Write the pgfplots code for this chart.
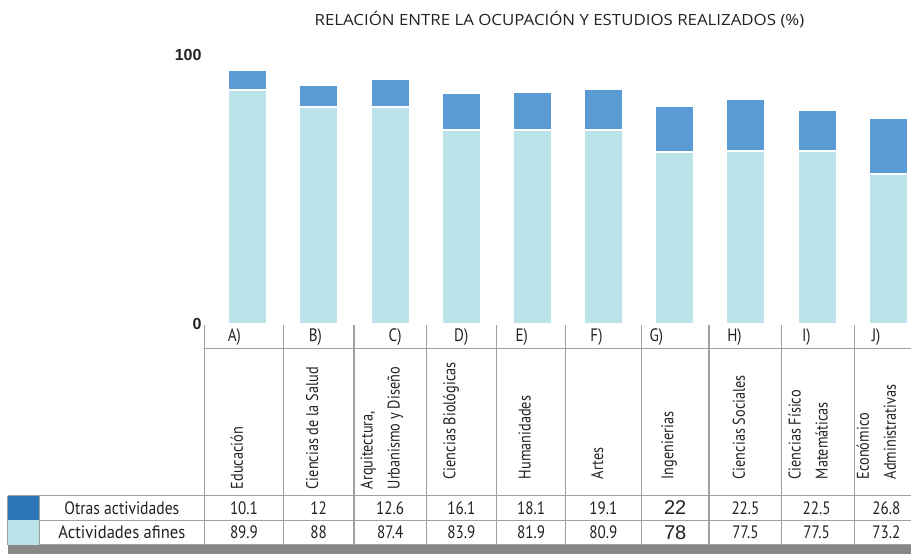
\documentclass[border=0pt]{standalone}
\usepackage{fontspec}
\usepackage{graphicx}
\setmainfont{Liberation Sans}
\newfontfamily\condf{PT Sans}
\newfontfamily\titlef{Open Sans}
\usepackage{pgfplots}
\usepackage{pgfplotstable}
\pgfplotsset{compat=1.18}
\definecolor{darkbar}{HTML}{5B9BD5}
\definecolor{lightbar}{HTML}{BDE3EA}
\definecolor{darksw}{HTML}{2E75B6}
\definecolor{gridc}{HTML}{A0A0A0}
\definecolor{footc}{HTML}{888888}
\definecolor{mytext}{HTML}{222222}
\newcommand{\nar}[1]{\scalebox{0.84}[1]{#1}}
\tikzset{
  lett/.style={font=\condf\fontsize{9}{10}\selectfont, text=mytext},
  cat/.style={font=\condf\fontsize{8.5}{13.5}\selectfont, text=mytext, rotate=90, anchor=west, align=left, inner sep=0pt},
  num/.style={font=\condf\fontsize{9}{10}\selectfont, text=mytext},
  tl/.style={gridc, line width=0.6pt},
}

\pgfplotstableread{
x afines otras
0 87.0 7.4
1 80.7 8.2
2 80.7 10.3
3 72.3 13.5
4 72.0 14.3
5 72.0 15.3
6 64.1 17.1
7 64.4 19.3
8 64.4 15.3
9 55.7 20.8
}\barsdata

\begin{document}
\begin{tikzpicture}
\begin{axis}[
  x=35.6pt, y=1.3465pt,
  xmin=-0.604, xmax=9.326, ymin=0, ymax=100,
  enlargelimits=false,
  ybar stacked, bar width=19.5pt,
  axis line style={draw=none}, major tick style={draw=none},
  xtick=\empty, ytick={0,100},
  /pgf/number format/assume math mode=true,
  yticklabel style={font=\fontsize{8}{8}\selectfont\bfseries, text=mytext, inner sep=1.5pt},
  clip=false,
]
\addplot[fill=lightbar, draw=white, line width=1pt] table[x=x,y=afines]{\barsdata};
\addplot[fill=darkbar, draw=white, line width=1pt] table[x=x,y=otras]{\barsdata};

\path (axis cs:-3.483,120.42) rectangle (axis cs:9.326,-85.3);

\node[font=\titlef\fontsize{7.7}{9}\selectfont, text=mytext] at (axis cs:4.38,113) {\resizebox{245pt}{\height}{RELACIÓN ENTRE LA OCUPACIÓN Y ESTUDIOS REALIZADOS (\%)}};

\fill[footc] (axis cs:-3.371,-81.96) rectangle (axis cs:9.326,-85.3);
\fill[darksw] (axis cs:-3.371,-63.76) rectangle (axis cs:-2.931,-72.93);
\fill[lightbar] (axis cs:-3.371,-72.93) rectangle (axis cs:-2.931,-81.96);

\draw[tl] (axis cs:-0.604,-0.26) -- (axis cs:-0.604,-81.96);
\draw[tl] (axis cs:0.496,-0.26) -- (axis cs:0.496,-81.96);
\draw[tl] (axis cs:1.493,-0.26) -- (axis cs:1.493,-81.96);
\draw[tl] (axis cs:2.510,-0.26) -- (axis cs:2.510,-81.96);
\draw[tl] (axis cs:3.493,-0.26) -- (axis cs:3.493,-81.96);
\draw[tl] (axis cs:4.466,-0.26) -- (axis cs:4.466,-81.96);
\draw[tl] (axis cs:5.529,-0.26) -- (axis cs:5.529,-81.96);
\draw[tl] (axis cs:6.482,-0.26) -- (axis cs:6.482,-81.96);
\draw[tl] (axis cs:7.504,-0.26) -- (axis cs:7.504,-81.96);
\draw[tl] (axis cs:8.528,-0.26) -- (axis cs:8.528,-81.96);
\draw[tl] (axis cs:-3.371,-63.76) -- (axis cs:-3.371,-81.96);
\draw[tl] (axis cs:-2.931,-63.76) -- (axis cs:-2.931,-81.96);
\draw[tl] (axis cs:-0.604,-9.17) -- (axis cs:9.326,-9.17);
\draw[tl] (axis cs:-3.371,-63.76) -- (axis cs:9.326,-63.76);
\draw[tl] (axis cs:-3.371,-72.93) -- (axis cs:9.326,-72.93);
\draw[tl] (axis cs:-3.371,-81.96) -- (axis cs:9.326,-81.96);

\node[lett] at (axis cs:-0.19,-4.7) {\nar{A)}};
\node[lett] at (axis cs:0.95,-4.7) {\nar{B)}};
\node[lett] at (axis cs:2.07,-4.7) {\nar{C)}};
\node[lett] at (axis cs:3.00,-4.7) {\nar{D)}};
\node[lett] at (axis cs:3.85,-4.7) {\nar{E)}};
\node[lett] at (axis cs:4.90,-4.7) {\nar{F)}};
\node[lett] at (axis cs:5.74,-4.7) {\nar{G)}};
\node[lett] at (axis cs:6.84,-4.7) {\nar{H)}};
\node[lett] at (axis cs:7.85,-4.7) {\nar{I)}};
\node[lett] at (axis cs:8.83,-4.7) {\nar{J)}};

\node[cat] at (axis cs:-0.154,-61.5) {\nar{Educación}};
\node[cat] at (axis cs:0.906,-61.5) {\nar{Ciencias de la Salud}};
\node[cat] at (axis cs:1.882,-61.5) {\nar{Arquitectura,}\\\nar{Urbanismo y Diseño}};
\node[cat] at (axis cs:2.858,-57.8) {\nar{Ciencias Biológicas}};
\node[cat] at (axis cs:3.890,-57.8) {\nar{Humanidades}};
\node[cat] at (axis cs:4.909,-57.8) {\nar{Artes}};
\node[cat] at (axis cs:5.920,-57.8) {\nar{Ingenierias}};
\node[cat] at (axis cs:6.903,-57.8) {\nar{Ciencias Sociales}};
\node[cat] at (axis cs:7.875,-57.8) {\nar{Ciencias Físico}\\\nar{Matemáticas}};
\node[cat] at (axis cs:8.834,-57.8) {\nar{Económico}\\\nar{Administrativas}};

\node[num] at (axis cs:-1.77,-68.3) {\resizebox{57.5pt}{\height}{Otras actividades}};
\node[num] at (axis cs:-1.77,-77.4) {\resizebox{63.5pt}{\height}{Actividades afines}};

\node[num] at (axis cs:-0.054,-68.3) {\nar{10.1}};
\node[num] at (axis cs:0.994,-68.3) {\nar{12}};
\node[num] at (axis cs:2.001,-68.3) {\nar{12.6}};
\node[num] at (axis cs:3.001,-68.3) {\nar{16.1}};
\node[num] at (axis cs:3.980,-68.3) {\nar{18.1}};
\node[num] at (axis cs:4.997,-68.3) {\nar{19.1}};
\node[num, font=\fontsize{10}{10}\selectfont] at (axis cs:6.007,-68.3) {22};
\node[num] at (axis cs:6.994,-68.3) {\nar{22.5}};
\node[num] at (axis cs:7.994,-68.3) {\nar{22.5}};
\node[num] at (axis cs:8.975,-68.3) {\nar{26.8}};
\node[num] at (axis cs:-0.054,-77.4) {\nar{89.9}};
\node[num] at (axis cs:0.994,-77.4) {\nar{88}};
\node[num] at (axis cs:2.001,-77.4) {\nar{87.4}};
\node[num] at (axis cs:3.001,-77.4) {\nar{83.9}};
\node[num] at (axis cs:3.980,-77.4) {\nar{81.9}};
\node[num] at (axis cs:4.997,-77.4) {\nar{80.9}};
\node[num, font=\fontsize{10}{10}\selectfont] at (axis cs:6.007,-77.4) {78};
\node[num] at (axis cs:6.994,-77.4) {\nar{77.5}};
\node[num] at (axis cs:7.994,-77.4) {\nar{77.5}};
\node[num] at (axis cs:8.975,-77.4) {\nar{73.2}};
\end{axis}
\end{tikzpicture}
\end{document}
